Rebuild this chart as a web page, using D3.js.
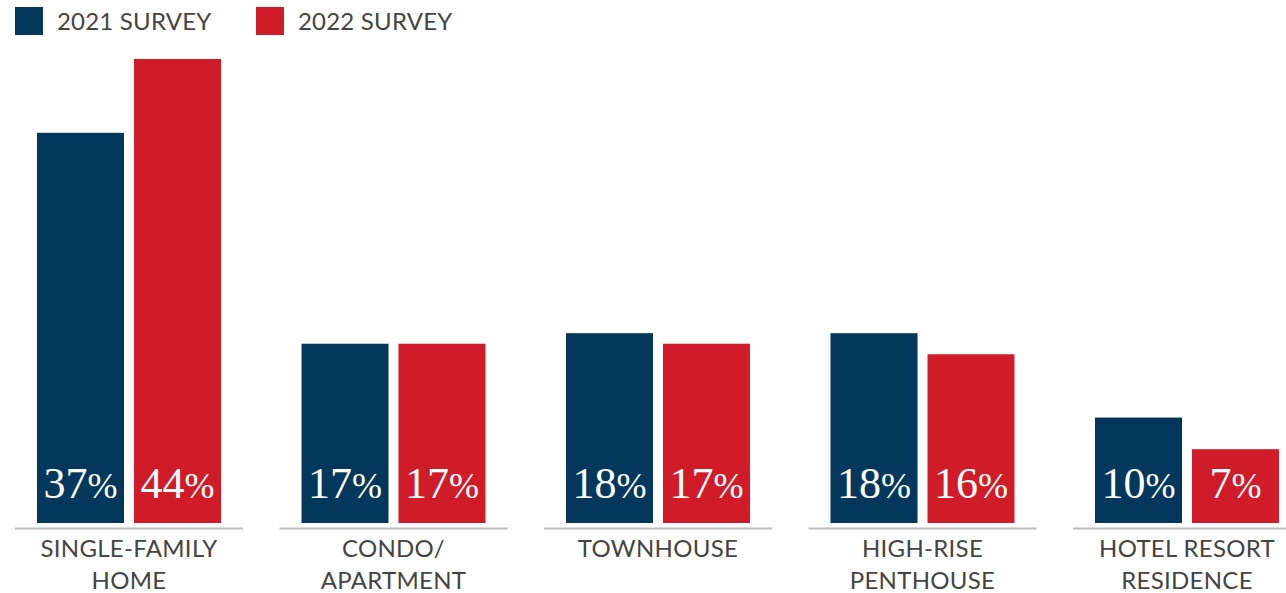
<!DOCTYPE html>
<html lang="en">
<head>
  <meta charset="UTF-8">
  <title>Survey chart</title>
  <style>
    body { margin: 0; background: #fff; }
    svg { display: block; }
    .cat { font-family: Lato, "Open Sans", sans-serif; font-size: 24px; letter-spacing: 0.3px; fill: #444; }
    .leg { font-family: Lato, "Open Sans", sans-serif; font-size: 24px; letter-spacing: 0.2px; fill: #444; }
    .val { font-family: "Liberation Serif", serif; font-size: 44px; fill: #fff; }
    .pct { font-size: 36px; }
  </style>
</head>
<body>
  <div id="chart"></div>
  <script src="https://d3js.org/d3.v7.min.js"></script>
  <script>
    // Daten
    var categories = [['SINGLE-FAMILY', 'HOME'], ['CONDO/', 'APARTMENT'], ['TOWNHOUSE'], ['HIGH-RISE', 'PENTHOUSE'], ['HOTEL RESORT', 'RESIDENCE']];
    var seriesNames = ['2021 SURVEY', '2022 SURVEY'];
    var survey2021 = [37, 17, 18, 18, 10];
    var survey2022 = [44, 17, 17, 16, 7];
    var colors = ['#03375b', '#d01c28'];

    var width = 1286, height = 593;
    var dataset = categories.map(function(c, i) {
      return { cat: c, values: [survey2021[i], survey2022[i]] };
    });

    var svg = d3.select('#chart')
      .append('svg')
      .attr('width', width)
      .attr('height', height);

    // Gruppen-Positionen
    var x0 = d3.scaleBand()
      .domain(d3.range(categories.length))
      .range([15, 1301])
      .paddingInner(0.138)
      .paddingOuter(0);

    var x1 = d3.scaleBand()
      .domain([0, 1])
      .range([22, x0.bandwidth() - 22])
      .paddingInner(0.103);

    var y = d3.scaleLinear()
      .domain([0, 44])
      .range([523, 59]);

    var groups = svg.selectAll('.group')
      .data(dataset)
      .enter()
      .append('g')
      .attr('class', 'group')
      .attr('transform', function(d, i) { return 'translate(' + x0(i) + ',0)'; });

    groups.append('line')
      .attr('x1', 0)
      .attr('x2', x0.bandwidth())
      .attr('y1', 528.5)
      .attr('y2', 528.5)
      .attr('stroke', '#bcbcbc')
      .attr('stroke-width', 2);

    var bars = groups.selectAll('.bar')
      .data(function(d) { return d.values; })
      .enter();

    bars.append('rect')
      .attr('class', 'bar')
      .attr('x', function(d, j) { return x1(j); })
      .attr('width', x1.bandwidth())
      .attr('y', function(d) { return y(d); })
      .attr('height', function(d) { return y(0) - y(d); })
      .attr('fill', function(d, j) { return colors[j]; });

    var vals = bars.append('text')
      .attr('class', 'val')
      .attr('x', function(d, j) { return x1(j) + x1.bandwidth() / 2; })
      .attr('y', 498)
      .attr('text-anchor', 'middle');
    vals.append('tspan').text(function(d) { return d; });
    vals.append('tspan').attr('class', 'pct').text('%');

    groups.append('text')
      .attr('class', 'cat')
      .attr('text-anchor', 'middle')
      .attr('x', x0.bandwidth() / 2)
      .selectAll('tspan')
      .data(function(d) { return d.cat; })
      .enter()
      .append('tspan')
      .attr('x', x0.bandwidth() / 2)
      .attr('y', function(d, k) { return 557 + k * 32; })
      .text(function(d) { return d; });

    // Legende
    var legend = svg.selectAll('.legend')
      .data(seriesNames)
      .enter()
      .append('g')
      .attr('transform', function(d, i) { return 'translate(' + (15 + i * 241) + ',7)'; });

    legend.append('rect')
      .attr('width', 28)
      .attr('height', 28)
      .attr('fill', function(d, i) { return colors[i]; });

    legend.append('text')
      .attr('class', 'leg')
      .attr('x', 42)
      .attr('y', 23)
      .text(function(d) { return d; });
  </script>
</body>
</html>
